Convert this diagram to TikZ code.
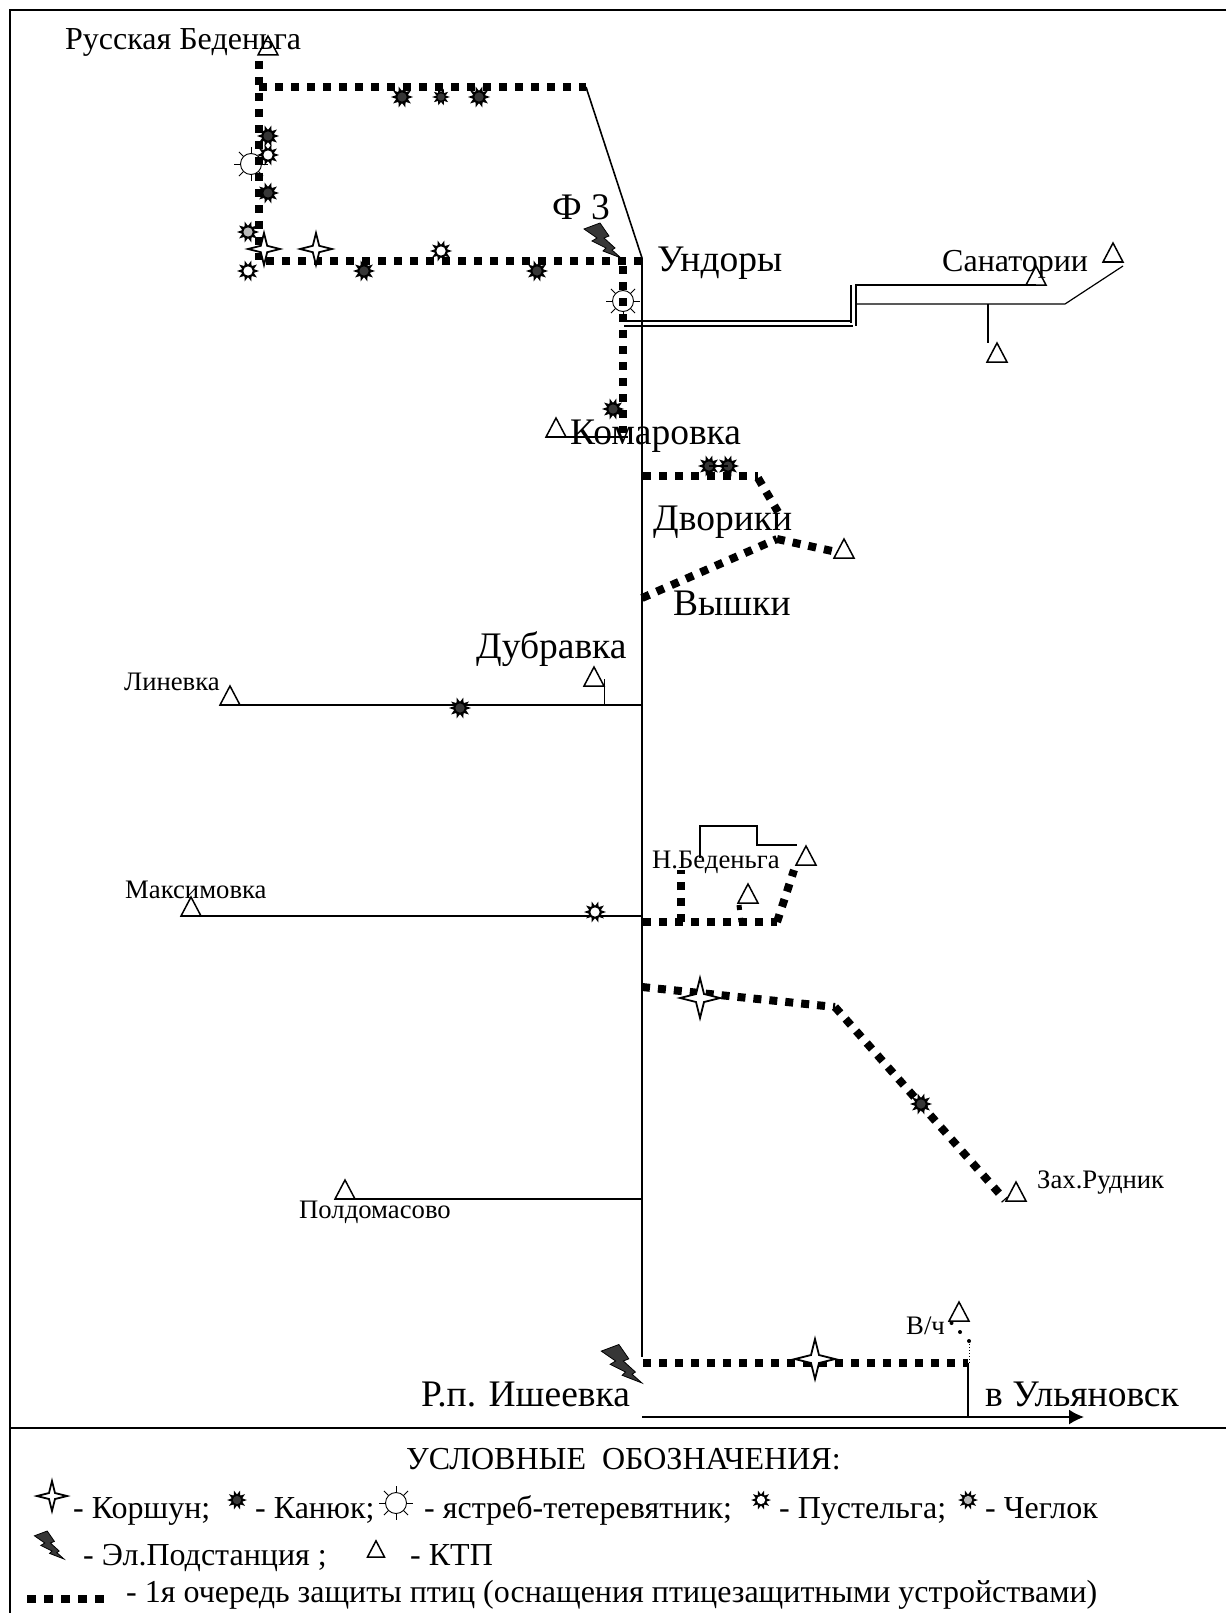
\documentclass[tikz,border=0pt]{standalone}
\usepackage{fontspec}
\setmainfont{Liberation Serif}
\usepackage{tikz}
\usetikzlibrary{arrows.meta, calc}
\definecolor{KanyukGray}{RGB}{55,55,55}
\definecolor{CheglokGray}{RGB}{185,185,185}
\tikzset{
  feeder/.style={line width=8pt, dash pattern=on 8pt off 8pt},
  feederthin/.style={line width=5pt, dash pattern=on 5pt off 8pt},
  wire/.style={line width=1.6pt},
  thinwire/.style={line width=1.2pt},
  labbig/.style={anchor=base west, inner sep=0pt, font=\fontsize{37.5}{38}\selectfont},
  labmid/.style={anchor=base west, inner sep=0pt, font=\fontsize{32}{32}\selectfont},
  lablow/.style={anchor=base west, inner sep=0pt, font=\fontsize{26.7}{27}\selectfont},
  pics/ktp/.style={code={
    \draw[line width=1.5pt, fill=none, line join=miter] (-10,0) -- (0,-19) -- (10,0) -- cycle;
  }},
  pics/kite/.style={code={
    \draw[line width=1.8pt, fill=white, line join=miter] (0,-20) -- (4,-4) -- (20,0) -- (4,4) -- (0,20) -- (-4,4) -- (-20,0) -- (-4,-4) -- cycle;
  }},
  pics/bird/.style={code={
    \foreach \a in {0,36,...,324} {
      \fill[black] (\a:11) -- (\a+18:6) -- (\a-18:6) -- cycle;
    }
    \fill[black] (0,0) circle (6.5);
    \fill[#1] (0,0) circle (4.6);
  }},
  pics/hawk/.style={code={
    \foreach \a in {0,45,...,315} {
      \draw[line width=.8pt] (\a:10.5) -- (\a:17);
    }
    \draw[line width=.9pt, fill=white] (0,0) circle (10.5);
  }},
  pics/bolt/.style={code={
    \draw[line width=.8pt, fill=KanyukGray, line join=miter] (-37,-29) -- (-21,-35) -- (-12,-22) -- (-17,-20) -- (-6,-10) -- (-9,-8) -- (0,0) -- (-18,-7) -- (-15,-10) -- (-29,-17) -- (-24,-20) -- cycle;
  }}
}
\begin{document}
\begin{tikzpicture}[x=1pt, y=-1pt]
  \useasboundingbox (0,0) rectangle (1226,1613);
  \fill[white] (0,0) rectangle (1226,1613);
  \coordinate (topRight) at (1226,10);
  \coordinate (topLeft) at (10,10);
  \coordinate (botLeft) at (10,1613);
  \coordinate (divLeft) at (10,1428);
  \coordinate (divRight) at (1226,1428);
  \draw[line width=2pt] (topRight) -- (topLeft) -- (botLeft);
  \draw[line width=2pt] (divLeft) -- (divRight);

  \coordinate (undory) at (642,258);
  \coordinate (ishEnd) at (642,1357);
  \coordinate (bendTop) at (586,87);
  \coordinate (tpRus) at (268,55);
  \coordinate (tpSanA) at (1036,285);
  \coordinate (tpSanB) at (1113,262);
  \coordinate (tpSanC) at (997,362);
  \coordinate (tpKom) at (556,437);
  \coordinate (tpDvo) at (844,558);
  \coordinate (tpLin) at (230,705);
  \coordinate (tpDub) at (594,686);
  \coordinate (tpMak) at (191,916);
  \coordinate (tpBedA) at (806,865);
  \coordinate (tpBedB) at (748,903);
  \coordinate (tpZah) at (1016,1201);
  \coordinate (tpPol) at (345,1199);
  \coordinate (tpVch) at (959,1321);

  \pic at (623,301) {hawk};
  \pic at (251,164) {hawk};

  \draw[wire] (undory) -- (ishEnd);
  \draw[wire] (bendTop) -- (undory);
  \draw[wire] (624,321) -- (852,321);
  \draw[wire] (624,326) -- (853,326);
  \draw[wire] (851,285) -- (851,323);
  \draw[wire] (856,285) -- (856,326);
  \draw[thinwire] (855,285) -- (tpSanA);
  \draw[thinwire] (855,304) -- (1065,304) -- (1123,266);
  \draw[thinwire] (988,304) -- (988,343);
  \draw[thinwire] (546,437) -- (628,437);
  \draw[wire] (220,705) -- (642,705);
  \draw[thinwire] (604.5,679) -- (604.5,705);
  \draw[wire] (181,916) -- (642,916);
  \draw[thinwire] (700,858) -- (700,826) -- (757,826) -- (757,845) -- (797,845);
  \draw[wire] (335,1199) -- (642,1199);
  \draw[wire] (968,1363) -- (968,1417);
  \draw[wire, -{Latex[length=15pt,width=15pt]}] (642,1417) -- (1084,1417);
  \draw[line width=1pt, dotted] (969,1341) -- (969,1363);

  \draw[feeder] (259,61) -- (259,260);
  \draw[feeder] (259,87) -- (bendTop);
  \draw[feeder] (266,261) -- (undory |- 261,261);
  \draw[feeder] (623,266) -- (623,433);
  \draw[feeder] (643,476) -- (758,476);
  \draw[feeder] (758,478) -- (778,512);
  \draw[feeder] (642,598) -- (777,539);
  \draw[feeder] (777,539) -- (832,551);
  \draw[feeder] (643,922) -- (777,922);
  \draw[feeder] (777,922) -- (794,870);
  \draw[feeder] (681,922) -- (681,870);
  \draw[feederthin] (739,905) -- (741,922);
  \draw[feeder] (642,987) -- (835,1007);
  \draw[feeder] (835,1007) -- (1005,1200);
  \draw[feeder] (643,1363) -- (968,1363);

  \foreach \p in {tpRus,tpSanA,tpSanB,tpSanC,tpKom,tpDvo,tpLin,tpDub,tpMak,tpBedA,tpBedB,tpZah,tpPol,tpVch}
    \pic at (\p) {ktp};

  \foreach \x/\y in {951.5/1323,960/1332,969/1341}
    \fill (\x,\y) circle (2);

  \foreach \x/\y in {402/97,479/97,268/136,268/193,364/271,537/271,613/409,709/466,728/466,460/708,921/1104}
    \pic at (\x,\y) {bird={KanyukGray}};
  \pic[scale=.8] at (441,97) {bird={KanyukGray}};
  \foreach \x/\y in {268/155,441/251,248/271,595/912}
    \pic at (\x,\y) {bird={white}};
  \pic at (248,232) {bird={CheglokGray}};
  \draw[wire] (709,466) -- (728,466);

  \pic[scale=.8] at (264,249) {kite};
  \pic[scale=.8] at (316,249) {kite};
  \pic at (700,998) {kite};
  \pic at (815,1359) {kite};

  \pic at (621,258) {bolt};
  \pic[scale=1.1] at (642,1383) {bolt};

  \node[labmid] (lblRus) at (65,50) {Русская Беденьга};
  \node[labbig] (lblFthree) at (552,220) {Ф 3};
  \node[labbig] (lblUnd) at (657,271) {Ундоры};
  \node[labmid] (lblSan) at (942,271) {Санатории};
  \node[labbig] (lblKom) at (570,444) {Комаровка};
  \node[labbig] (lblDvo) at (653,530) {Дворики};
  \node[labbig] (lblVys) at (673,615) {Вышки};
  \node[labbig] (lblDub) at (476,658) {Дубравка};
  \node[lablow] (lblLin) at (124,690) {Линевка};
  \node[lablow] (lblMak) at (125,898) {Максимовка};
  \node[lablow] (lblBed) at (652,868) {Н.Беденьга};
  \node[lablow] (lblZah) at (1037,1188) {Зах.Рудник};
  \node[lablow] (lblPol) at (299,1218) {Полдомасово};
  \node[lablow] (lblVch) at (906,1334) {В/ч};
  \node[labbig] (lblIsh) at (421,1406) {Р.п. Ишеевка};
  \node[labbig] (lblUly) at (985,1406) {в Ульяновск};

  \node[labmid] (legTitle) at (406,1469) {УСЛОВНЫЕ\ \ ОБОЗНАЧЕНИЯ:};
  \pic[scale=.75] at (52,1496) {kite};
  \node[labmid] (legKor) at (73,1518) {- Коршун;};
  \pic[scale=.9] at (237,1500) {bird={KanyukGray}};
  \node[labmid] (legKan) at (255,1518) {- Канюк;};
  \pic at (396,1503) {hawk};
  \node[labmid] (legYas) at (424,1518) {- ястреб-тетеревятник;};
  \pic[scale=.9] at (761,1500) {bird={white}};
  \node[labmid] (legPus) at (779,1518) {- Пустельга;};
  \pic[scale=.9] at (968,1500) {bird={CheglokGray}};
  \node[labmid] (legChe) at (985,1518) {- Чеглок};
  \pic[scale=.8] at (64,1559) {bolt};
  \node[labmid] (legSub) at (83,1565) {- Эл.Подстанция ;};
  \pic[scale=.85] at (376,1557) {ktp};
  \node[labmid] (legKtp) at (410,1565) {- КТП};
  \coordinate (legDotA) at (27,1599);
  \coordinate (legDotB) at (103.5,1599);
  \draw[line width=8pt, dash pattern=on 8.5pt off 8.5pt] (legDotA) -- (legDotB);
  \node[labmid] (legLine) at (126,1602) {- 1я очередь защиты птиц (оснащения птицезащитными устройствами)};
\end{tikzpicture}
\end{document}
